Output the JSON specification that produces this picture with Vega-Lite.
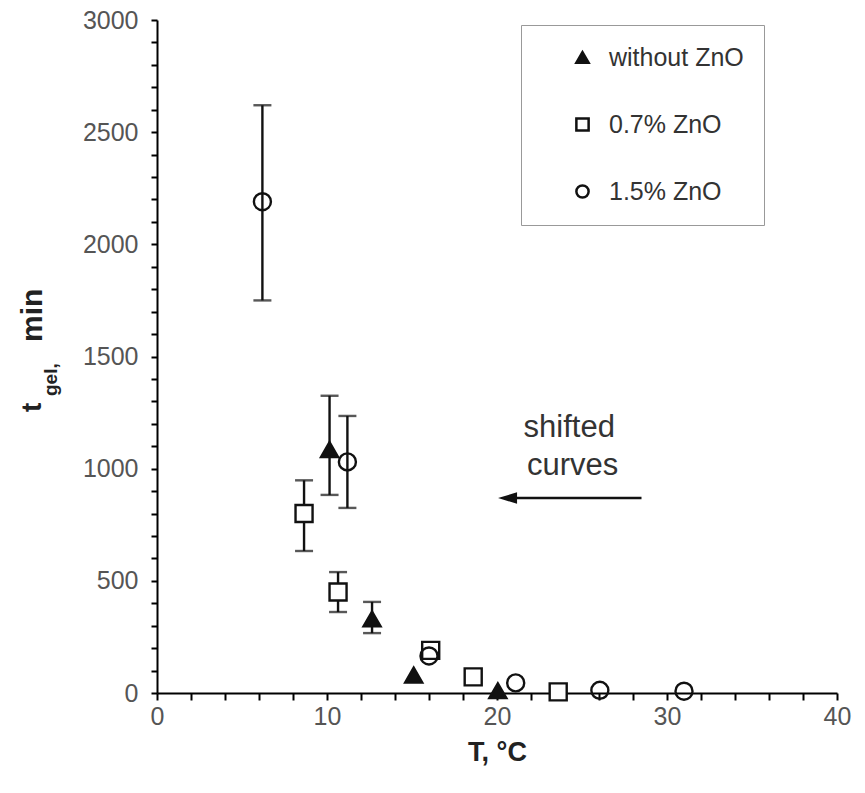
{
  "$schema": "https://vega.github.io/schema/vega-lite/v6.json",
  "width": 680,
  "height": 673,
  "autosize": "none",
  "padding": {"left": 157, "top": 20, "right": 28, "bottom": 100},
  "background": "white",
  "config": {
    "view": {"stroke": null},
    "font": "Liberation Sans",
    "axis": {
      "grid": false, "labelOverlap": false, "labelFlush": false,
      "domainColor": "black", "domainWidth": 2,
      "tickColor": "black", "tickWidth": 2,
      "labelFontSize": 25, "labelColor": "#555"
    },
    "axisX": {"tickSize": 7, "labelPadding": 4, "titleFontSize": 27, "titleFontWeight": "bold", "titleColor": "#222", "titlePadding": 10},
    "axisY": {"tickSize": 6, "labelPadding": 13}
  },
  "datasets": {
    "pts": [
      {"series": "without ZnO", "T": 10.15, "t": 1085, "lo": 883, "hi": 1325},
      {"series": "without ZnO", "T": 12.65, "t": 330, "lo": 267, "hi": 406},
      {"series": "without ZnO", "T": 15.1, "t": 80},
      {"series": "without ZnO", "T": 20.05, "t": 10},
      {"series": "0.7% ZnO", "T": 8.65, "t": 800, "lo": 633, "hi": 948},
      {"series": "0.7% ZnO", "T": 10.65, "t": 450, "lo": 361, "hi": 539},
      {"series": "0.7% ZnO", "T": 16.1, "t": 190},
      {"series": "0.7% ZnO", "T": 18.6, "t": 72},
      {"series": "0.7% ZnO", "T": 23.6, "t": 5},
      {"series": "1.5% ZnO", "T": 6.2, "t": 2190, "lo": 1750, "hi": 2620},
      {"series": "1.5% ZnO", "T": 11.2, "t": 1030, "lo": 825, "hi": 1235},
      {"series": "1.5% ZnO", "T": 16.0, "t": 165},
      {"series": "1.5% ZnO", "T": 21.1, "t": 45},
      {"series": "1.5% ZnO", "T": 26.05, "t": 12},
      {"series": "1.5% ZnO", "T": 31.0, "t": 8}
    ],
    "one": [{"k": 1}]
  },
  "layer": [
    {
      "data": {"name": "pts"},
      "transform": [{"filter": "isValid(datum.lo)"}],
      "mark": {"type": "rule", "color": "#111", "strokeWidth": 2.4},
      "encoding": {
        "x": {"field": "T", "type": "quantitative", "scale": {"domain": [0, 40], "nice": false, "zero": false},
          "axis": {"values": [0,2,4,6,8,10,12,14,16,18,20,22,24,26,28,30,32,34,36,38,40], "labelExpr": "datum.value % 10 === 0 ? datum.label : ''", "title": "T, °C"}},
        "y": {"field": "lo", "type": "quantitative", "scale": {"domain": [0, 3000], "nice": false},
          "axis": {"values": [0,100,200,300,400,500,600,700,800,900,1000,1100,1200,1300,1400,1500,1600,1700,1800,1900,2000,2100,2200,2300,2400,2500,2600,2700,2800,2900,3000], "format": "d", "labelExpr": "datum.value % 500 === 0 ? datum.label : ''", "title": null}},
        "y2": {"field": "hi"}
      }
    },
    {
      "data": {"name": "pts"},
      "transform": [{"filter": "isValid(datum.lo)"}],
      "mark": {"type": "tick", "orient": "horizontal", "color": "#111", "size": 18, "thickness": 2.4},
      "encoding": {
        "x": {"field": "T", "type": "quantitative",
          "axis": {"values": [0,2,4,6,8,10,12,14,16,18,20,22,24,26,28,30,32,34,36,38,40], "labelExpr": "datum.value % 10 === 0 ? datum.label : ''", "title": "T, °C"}},
        "y": {"field": "lo", "type": "quantitative",
          "axis": {"values": [0,100,200,300,400,500,600,700,800,900,1000,1100,1200,1300,1400,1500,1600,1700,1800,1900,2000,2100,2200,2300,2400,2500,2600,2700,2800,2900,3000], "format": "d", "labelExpr": "datum.value % 500 === 0 ? datum.label : ''", "title": null}}
      }
    },
    {
      "data": {"name": "pts"},
      "transform": [{"filter": "isValid(datum.lo)"}],
      "mark": {"type": "tick", "orient": "horizontal", "color": "#111", "size": 18, "thickness": 2.4},
      "encoding": {
        "x": {"field": "T", "type": "quantitative",
          "axis": {"values": [0,2,4,6,8,10,12,14,16,18,20,22,24,26,28,30,32,34,36,38,40], "labelExpr": "datum.value % 10 === 0 ? datum.label : ''", "title": "T, °C"}},
        "y": {"field": "hi", "type": "quantitative",
          "axis": {"values": [0,100,200,300,400,500,600,700,800,900,1000,1100,1200,1300,1400,1500,1600,1700,1800,1900,2000,2100,2200,2300,2400,2500,2600,2700,2800,2900,3000], "format": "d", "labelExpr": "datum.value % 500 === 0 ? datum.label : ''", "title": null}}
      }
    },
    {
      "data": {"name": "pts"},
      "mark": {"type": "point", "strokeWidth": 2.4, "size": 290, "opacity": 1},
      "encoding": {
        "x": {"field": "T", "type": "quantitative",
          "axis": {"values": [0,2,4,6,8,10,12,14,16,18,20,22,24,26,28,30,32,34,36,38,40], "labelExpr": "datum.value % 10 === 0 ? datum.label : ''", "title": "T, °C"}},
        "y": {"field": "t", "type": "quantitative",
          "axis": {"values": [0,100,200,300,400,500,600,700,800,900,1000,1100,1200,1300,1400,1500,1600,1700,1800,1900,2000,2100,2200,2300,2400,2500,2600,2700,2800,2900,3000], "format": "d", "labelExpr": "datum.value % 500 === 0 ? datum.label : ''", "title": null}},
        "shape": {
          "field": "series", "type": "nominal",
          "scale": {"domain": ["without ZnO", "0.7% ZnO", "1.5% ZnO"], "range": ["triangle-up", "square", "circle"]},
          "legend": {
            "orient": "none", "legendX": 364, "legendY": 5, "title": null,
            "padding": 20, "rowPadding": 41, "symbolOffset": 29, "labelOffset": 14,
            "labelFontSize": 25, "labelColor": "#333", "labelLimit": 400,
            "strokeColor": "#999", "fillColor": "white",
            "symbolSize": 150, "symbolStrokeWidth": 2.5
          }
        },
        "fill": {
          "field": "series", "type": "nominal",
          "scale": {"domain": ["without ZnO", "0.7% ZnO", "1.5% ZnO"], "range": ["#111", "white", "transparent"]},
          "legend": {
            "orient": "none", "legendX": 364, "legendY": 5, "title": null,
            "padding": 20, "rowPadding": 41, "symbolOffset": 29, "labelOffset": 14,
            "labelFontSize": 25, "labelColor": "#333", "labelLimit": 400,
            "strokeColor": "#999", "fillColor": "white",
            "symbolSize": 150, "symbolStrokeWidth": 2.5
          }
        },
        "stroke": {
          "field": "series", "type": "nominal",
          "scale": {"domain": ["without ZnO", "0.7% ZnO", "1.5% ZnO"], "range": ["#111", "#111", "#111"]},
          "legend": {
            "orient": "none", "legendX": 364, "legendY": 5, "title": null,
            "padding": 20, "rowPadding": 41, "symbolOffset": 29, "labelOffset": 14,
            "labelFontSize": 25, "labelColor": "#333", "labelLimit": 400,
            "strokeColor": "#999", "fillColor": "white",
            "symbolSize": 150, "symbolStrokeWidth": 2.5
          }
        }
      }
    },
    {
      "data": {"name": "one"},
      "mark": {"type": "rule", "color": "#111", "strokeWidth": 2.5},
      "encoding": {
        "x": {"datum": 20.6, "type": "quantitative",
          "axis": {"values": [0,2,4,6,8,10,12,14,16,18,20,22,24,26,28,30,32,34,36,38,40], "labelExpr": "datum.value % 10 === 0 ? datum.label : ''", "title": "T, °C"}},
        "x2": {"datum": 28.5},
        "y": {"datum": 869, "type": "quantitative",
          "axis": {"values": [0,100,200,300,400,500,600,700,800,900,1000,1100,1200,1300,1400,1500,1600,1700,1800,1900,2000,2100,2200,2300,2400,2500,2600,2700,2800,2900,3000], "format": "d", "labelExpr": "datum.value % 500 === 0 ? datum.label : ''", "title": null}}
      }
    },
    {
      "data": {"name": "one"},
      "mark": {"type": "point", "shape": "M -1 0 L 1 -0.6 L 1 0.6 Z", "size": 361, "filled": true, "color": "#111", "opacity": 1},
      "encoding": {
        "x": {"datum": 20.62, "type": "quantitative",
          "axis": {"values": [0,2,4,6,8,10,12,14,16,18,20,22,24,26,28,30,32,34,36,38,40], "labelExpr": "datum.value % 10 === 0 ? datum.label : ''", "title": "T, °C"}},
        "y": {"datum": 869, "type": "quantitative",
          "axis": {"values": [0,100,200,300,400,500,600,700,800,900,1000,1100,1200,1300,1400,1500,1600,1700,1800,1900,2000,2100,2200,2300,2400,2500,2600,2700,2800,2900,3000], "format": "d", "labelExpr": "datum.value % 500 === 0 ? datum.label : ''", "title": null}}
      }
    },
    {
      "data": {"name": "one"},
      "mark": {"type": "text", "text": "shifted", "fontSize": 31, "color": "#333", "align": "center", "baseline": "alphabetic"},
      "encoding": {
        "x": {"datum": 24.25, "type": "quantitative",
          "axis": {"values": [0,2,4,6,8,10,12,14,16,18,20,22,24,26,28,30,32,34,36,38,40], "labelExpr": "datum.value % 10 === 0 ? datum.label : ''", "title": "T, °C"}},
        "y": {"datum": 1141, "type": "quantitative",
          "axis": {"values": [0,100,200,300,400,500,600,700,800,900,1000,1100,1200,1300,1400,1500,1600,1700,1800,1900,2000,2100,2200,2300,2400,2500,2600,2700,2800,2900,3000], "format": "d", "labelExpr": "datum.value % 500 === 0 ? datum.label : ''", "title": null}}
      }
    },
    {
      "data": {"name": "one"},
      "mark": {"type": "text", "text": "curves", "fontSize": 31, "color": "#333", "align": "center", "baseline": "alphabetic"},
      "encoding": {
        "x": {"datum": 24.45, "type": "quantitative",
          "axis": {"values": [0,2,4,6,8,10,12,14,16,18,20,22,24,26,28,30,32,34,36,38,40], "labelExpr": "datum.value % 10 === 0 ? datum.label : ''", "title": "T, °C"}},
        "y": {"datum": 972, "type": "quantitative",
          "axis": {"values": [0,100,200,300,400,500,600,700,800,900,1000,1100,1200,1300,1400,1500,1600,1700,1800,1900,2000,2100,2200,2300,2400,2500,2600,2700,2800,2900,3000], "format": "d", "labelExpr": "datum.value % 500 === 0 ? datum.label : ''", "title": null}}
      }
    },
    {
      "data": {"name": "one"},
      "mark": {"type": "text", "text": "t", "fontSize": 28, "fontWeight": "bold", "color": "#222", "angle": 270, "align": "left", "baseline": "alphabetic"},
      "encoding": {
        "x": {"datum": -6.82, "type": "quantitative",
          "axis": {"values": [0,2,4,6,8,10,12,14,16,18,20,22,24,26,28,30,32,34,36,38,40], "labelExpr": "datum.value % 10 === 0 ? datum.label : ''", "title": "T, °C"}},
        "y": {"datum": 1253, "type": "quantitative",
          "axis": {"values": [0,100,200,300,400,500,600,700,800,900,1000,1100,1200,1300,1400,1500,1600,1700,1800,1900,2000,2100,2200,2300,2400,2500,2600,2700,2800,2900,3000], "format": "d", "labelExpr": "datum.value % 500 === 0 ? datum.label : ''", "title": null}}
      }
    },
    {
      "data": {"name": "one"},
      "mark": {"type": "text", "text": "gel,", "fontSize": 19, "fontWeight": "bold", "color": "#222", "angle": 270, "align": "left", "baseline": "alphabetic"},
      "encoding": {
        "x": {"datum": -5.88, "type": "quantitative",
          "axis": {"values": [0,2,4,6,8,10,12,14,16,18,20,22,24,26,28,30,32,34,36,38,40], "labelExpr": "datum.value % 10 === 0 ? datum.label : ''", "title": "T, °C"}},
        "y": {"datum": 1324, "type": "quantitative",
          "axis": {"values": [0,100,200,300,400,500,600,700,800,900,1000,1100,1200,1300,1400,1500,1600,1700,1800,1900,2000,2100,2200,2300,2400,2500,2600,2700,2800,2900,3000], "format": "d", "labelExpr": "datum.value % 500 === 0 ? datum.label : ''", "title": null}}
      }
    },
    {
      "data": {"name": "one"},
      "mark": {"type": "text", "text": "min", "fontSize": 30, "fontWeight": "bold", "color": "#222", "angle": 270, "align": "left", "baseline": "alphabetic"},
      "encoding": {
        "x": {"datum": -6.76, "type": "quantitative",
          "axis": {"values": [0,2,4,6,8,10,12,14,16,18,20,22,24,26,28,30,32,34,36,38,40], "labelExpr": "datum.value % 10 === 0 ? datum.label : ''", "title": "T, °C"}},
        "y": {"datum": 1565, "type": "quantitative",
          "axis": {"values": [0,100,200,300,400,500,600,700,800,900,1000,1100,1200,1300,1400,1500,1600,1700,1800,1900,2000,2100,2200,2300,2400,2500,2600,2700,2800,2900,3000], "format": "d", "labelExpr": "datum.value % 500 === 0 ? datum.label : ''", "title": null}}
      }
    }
  ]
}
